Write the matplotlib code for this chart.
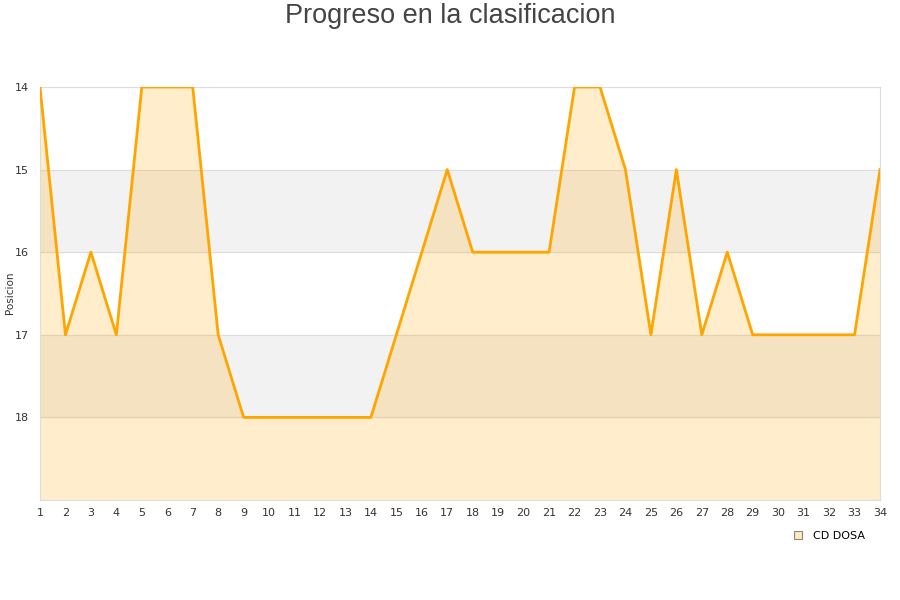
import matplotlib
matplotlib.use("Agg")
import matplotlib.pyplot as plt
from matplotlib.lines import Line2D

jornadas = list(range(1, 35))
posiciones = [14, 17, 16, 17, 14, 14, 14, 17, 18, 18, 18, 18, 18, 18, 17, 16, 15, 16, 16, 16,
              16, 14, 14, 15, 17, 15, 17, 16, 17, 17, 17, 17, 17, 15]
y_ticks = [14, 15, 16, 17, 18]
team = "CD DOSA"
title = "Progreso en la clasificacion"
ylabel = "Posicion"

fig = plt.figure(figsize=(9, 6), dpi=100)
ax = fig.add_axes([40/900, 1-500/600, 840/900, 413/600])

ax.set_xlim(1, 34)
ax.set_ylim(19, 14)

# bands
ax.axhspan(15, 16, color="#f2f2f2", zorder=0)
ax.axhspan(17, 18, color="#f2f2f2", zorder=0)
for yv in y_ticks:
    ax.axhline(yv, color="#dddddd", lw=0.8, zorder=1)

ax.fill_between(jornadas, posiciones, 19, color="#ffa500", alpha=0.2, zorder=2, lw=0)
ax.plot(jornadas, posiciones, color="#ffa500", lw=2, zorder=3)

ax.set_xticks(jornadas)
ax.set_yticks(y_ticks)
ax.tick_params(axis="both", length=0, labelsize=8, colors="#333333", pad=6)
ax.tick_params(axis="y", pad=8)
for s in ["top", "right", "left", "bottom"]:
    ax.spines[s].set_color("#dddddd")

fig.text(10/900, 1-293/600, ylabel, rotation=90, ha="center", va="center",
         fontsize=7.5, color="#333333")

fig.text(0.5, 1-16/600, title, ha="center", va="center", fontsize=19.5,
         color="#444444", family="Liberation Sans")

handle = Line2D([], [], marker="s", linestyle="none", markersize=6,
                markerfacecolor="#ffe9bf", markeredgecolor="#888888", markeredgewidth=0.8)
fig.legend([handle], [team], loc="center", bbox_to_anchor=(826/900, 1-536/600),
           frameon=False, fontsize=8, handletextpad=0.3)

fig.savefig("out.png", dpi=100)
